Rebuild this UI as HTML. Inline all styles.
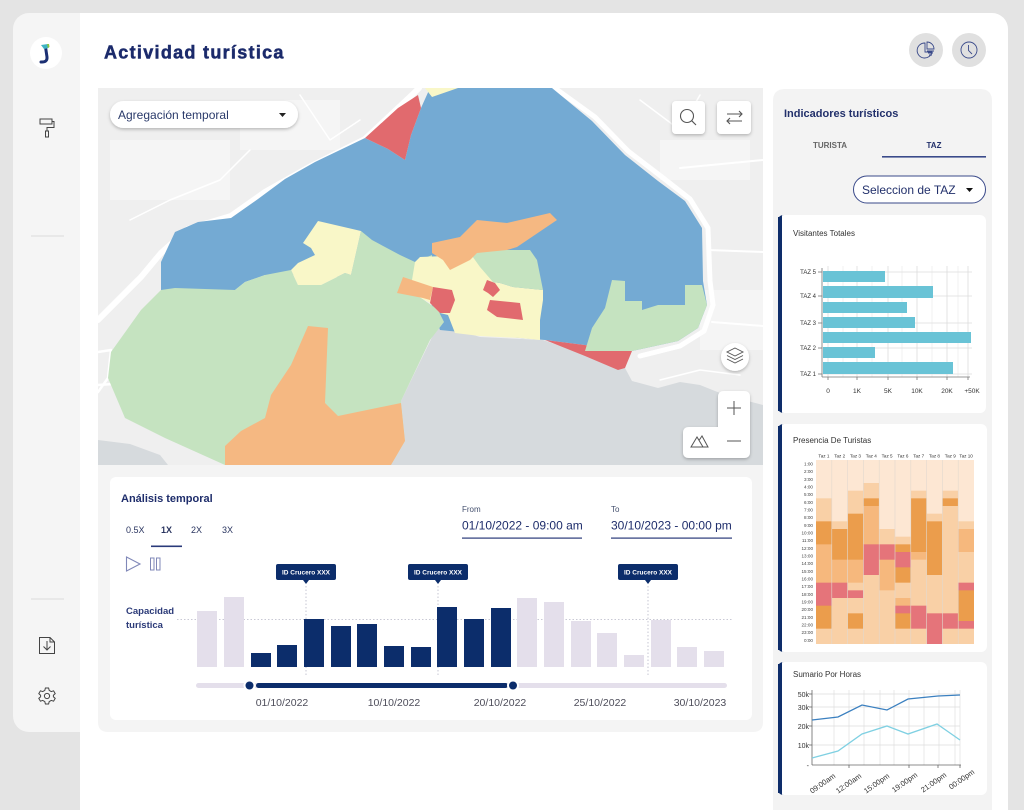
<!DOCTYPE html>
<html><head><meta charset="utf-8">
<style>
html,body{margin:0;padding:0;background:#e4e4e4;width:1024px;height:810px;overflow:hidden}
svg{position:absolute;left:0;top:0;font-family:"Liberation Sans",sans-serif}
.L{fill:#fde7d3}.P{fill:#f9d0a6}.M{fill:#f6b87d}.D{fill:#eb9d4c}.R{fill:#e5747a}
</style></head>
<body>
<svg width="1024" height="810" viewBox="0 0 1024 810" xmlns="http://www.w3.org/2000/svg">
<defs>
<filter id="sh" x="-30%" y="-30%" width="160%" height="170%"><feDropShadow dx="0" dy="1.5" stdDeviation="1.5" flood-color="#000" flood-opacity="0.25"/></filter>
<clipPath id="mapclip"><rect x="98" y="88" width="665" height="377"/></clipPath>
</defs>
<rect width="1024" height="810" fill="#e4e4e4"/>
<!-- main white -->
<path d="M80,13 H992 A16,16 0 0 1 1008,29 V810 H80 Z" fill="#ffffff"/>
<!-- sidebar -->
<path d="M29,13 H80 V732 H29 A16,16 0 0 1 13,716 V29 A16,16 0 0 1 29,13 Z" fill="#f5f5f5"/>
<circle cx="46" cy="53" r="16" fill="#fff"/>
<path d="M45.5,47 L47,57 Q47.5,62.5 41,62" fill="none" stroke="#1b2f73" stroke-width="3" stroke-linecap="round"/>
<path d="M41,45 L48,44 L48.5,48 L44,49 Z" fill="#3fb3c4"/>
<path d="M47,44 L49,44 L49.5,47 L48,48 Z" fill="#8cc63f"/>
<!-- roller -->
<rect x="40" y="119" width="12" height="5" fill="none" stroke="#444" stroke-width="1"/>
<path d="M52,121.5 H54 V127.5 H47 V131" fill="none" stroke="#444" stroke-width="1"/>
<rect x="45.5" y="131" width="3" height="6" fill="none" stroke="#444" stroke-width="1"/>
<line x1="31" y1="236" x2="64" y2="236" stroke="#dcdcdc" stroke-width="1"/>
<line x1="31" y1="599" x2="64" y2="599" stroke="#dcdcdc" stroke-width="1"/>
<!-- download doc -->
<path d="M39.5,637.5 H50 L54.5,642 V653.5 H39.5 Z" fill="none" stroke="#444" stroke-width="1"/>
<path d="M50,637.5 V642 H54.5" fill="none" stroke="#444" stroke-width="1"/>
<path d="M47,641 V650 M43.5,646.5 L47,650 L50.5,646.5" fill="none" stroke="#444" stroke-width="1"/>
<!-- gear -->
<g transform="translate(47,696)" fill="none" stroke="#444" stroke-width="1">
<path d="M-1.6,-8 H1.6 L2.2,-5.6 L4.3,-4.4 L6.6,-5.2 L8.2,-2.4 L6.4,-0.8 V0.8 L8.2,2.4 L6.6,5.2 L4.3,4.4 L2.2,5.6 L1.6,8 H-1.6 L-2.2,5.6 L-4.3,4.4 L-6.6,5.2 L-8.2,2.4 L-6.4,0.8 V-0.8 L-8.2,-2.4 L-6.6,-5.2 L-4.3,-4.4 L-2.2,-5.6 Z"/>
<circle r="2.6"/>
</g>

<!-- title -->
<text x="104" y="58.5" font-size="18" font-weight="bold" letter-spacing="1.3" fill="#1b2a6b" stroke="#1b2a6b" stroke-width="0.5">Actividad turística</text>
<!-- top right icons -->
<circle cx="926" cy="50" r="17" fill="#e0e0e0"/>
<circle cx="969" cy="50" r="17" fill="#e0e0e0"/>
<g fill="none" stroke="#3a4a8a" stroke-width="0.9">
<path d="M925,43 A7.5,7.5 0 1 0 932,52 H925 Z"/>
<path d="M927,42 A7,7 0 0 1 934,49 H927 Z"/>
<path d="M927,51 H934 M928,53 H933 M929,55 H932"/>
<circle cx="969" cy="50" r="8"/>
<path d="M968.5,45 V50.5 L972,54"/>
</g>

<!-- MAP -->
<g clip-path="url(#mapclip)">
<rect x="98" y="88" width="665" height="377" fill="#efefef"/>
<g fill="#f5f5f5">
<rect x="110" y="140" width="120" height="60"/>
<rect x="240" y="100" width="100" height="50"/>
<rect x="620" y="200" width="60" height="40"/>
<rect x="700" y="290" width="63" height="60"/>
<rect x="660" y="140" width="90" height="40"/>
</g>
<g fill="none" stroke="#ffffff" stroke-linecap="round" stroke-linejoin="round">
<polyline stroke-width="6" points="98,320 141,277 161,253 188,229 231,216 265,192 311,166 365,139 411,96 419,88"/>
<polyline stroke-width="5" points="552,86 595,117 628,151 662,177 690,199 708,228 710,281 713,305 704,331 680,346 640,356"/>
<polyline stroke-width="2.5" points="98,385 158,381 178,388 225,446"/>
<polyline stroke-width="2.5" points="98,352 111,350 108,378 98,392"/>
<polyline stroke-width="2" points="708,250 763,252"/>
<polyline stroke-width="2" points="712,322 763,326"/>
<polyline stroke-width="2" points="680,168 763,160"/>
<polyline stroke-width="1.5" points="640,100 680,130 700,95"/>
<polyline stroke-width="1.5" points="300,95 330,140 360,120"/>
<polyline stroke-width="1.5" points="130,220 170,200 220,180 250,150"/>
<polyline stroke-width="1.5" points="660,380 700,370 740,375"/>
</g>
<!-- sea -->
<path d="M401,401 L438,325 L447,327 L480,337 L543,340 L625,368 L632,381 L658,388 L680,382 L700,385 L725,395 L763,405 V465 H391 L405,441 Z" fill="#d6dadd"/>
<path d="M98,440 L130,444 L160,455 L168,465 H98 Z" fill="#d6dadd"/>
<!-- blue -->
<path d="M161,290 L161,262 L175,232 L198,222 L231,218 L258,199 L285,179 L315,162 L365,138 L388,149 L405,160 L411,135 L421,108 L430,88 L552,88 L592,121 L625,155 L658,181 L685,201 L702,228 L703,281 L707,305 L698,328 L678,341 L632,351 L545,340 L520,338 L440,330 L430,300 L400,280 L291,275 L265,275 L245,282 L235,290 L198,290 Z" fill="#74aad3"/>
<!-- green left -->
<path d="M111,352 L141,310 L161,290 L175,288 L235,290 L245,282 L265,275 L291,270 L298,285 L321,285 L345,273 L351,275 L361,231 L372,240 L400,255 L415,262 L432,255 L432,270 L410,290 L438,310 L444,322 L430,340 L401,401 L405,441 L391,465 L225,465 L165,438 L125,418 L108,378 Z" fill="#c5e3c0"/>
<!-- yellow top-left -->
<path d="M291,270 L298,263 L315,255 L311,248 L303,243 L318,221 L361,231 L351,275 L345,273 L321,285 L298,285 Z" fill="#f9f7c8"/>
<!-- orange bottom-left -->
<path d="M308,326 L328,328 L325,403 L338,416 L401,403 L405,441 L391,465 L225,465 L225,446 L241,431 L265,418 L271,395 L291,365 Z" fill="#f5b882"/>
<!-- center -->
<path d="M415,262 L420,257 L445,256 L470,253 L480,262 L493,282 L500,283 L513,287 L543,290 L543,300 L540,320 L540,340 L520,338 L480,336 L455,333 L448,315 L440,313 L430,303 L410,292 Z" fill="#f9f7c8"/>
<path d="M470,253 L497,250 L530,250 L537,260 L543,290 L513,287 L500,283 L493,282 L480,267 Z" fill="#c5e3c0"/>
<path d="M432,243 L460,237 L477,220 L507,223 L550,213 L557,220 L517,247 L507,250 L477,253 L470,260 L450,270 L443,260 L432,253 Z" fill="#f5b882"/>
<path d="M403,277 L433,287 L430,300 L423,298 L397,293 Z" fill="#f5b882"/>
<path d="M433,287 L452,290 L455,300 L450,313 L440,313 L430,303 Z" fill="#e16a6e"/>
<path d="M487,280 L495,283 L500,290 L493,297 L488,293 L483,290 Z" fill="#e16a6e"/>
<path d="M490,300 L520,303 L523,320 L497,317 L487,310 Z" fill="#e16a6e"/>
<!-- red top -->
<path d="M365,138 L398,108 L418,95 L421,108 L411,135 L405,160 L388,149 Z" fill="#e16a6e"/>
<!-- red bottom strip -->
<path d="M545,340 L632,351 L625,368 L618,370 L585,356 Z" fill="#e16a6e"/>
<!-- green bottom right -->
<path d="M612,280 L625,281 L625,301 L642,301 L642,310 L658,305 L685,305 L685,285 L702,285 L707,305 L698,328 L678,341 L632,351 L585,351 L592,328 L605,308 Z" fill="#c5e3c0"/>
<!-- yellow sliver -->
<path d="M425,88 L458,88 L432,97 Z" fill="#f9f7c8"/>
</g>
<!-- map controls -->
<rect x="110" y="101" width="188" height="27" rx="13.5" fill="#fff" filter="url(#sh)"/>
<text x="118" y="119" font-size="12" fill="#2a3a6a">Agregación temporal</text>
<path d="M279,113 L286,113 L282.5,117 Z" fill="#222"/>
<rect x="672" y="101" width="33" height="33" rx="4" fill="#fff" filter="url(#sh)"/>
<rect x="717" y="101" width="34" height="33" rx="4" fill="#fff" filter="url(#sh)"/>
<g fill="none" stroke="#555" stroke-width="1.1">
<circle cx="687" cy="116" r="6.5"/>
<line x1="691.8" y1="120.8" x2="696" y2="125"/>
<path d="M727,114 H742 M739,111 L742,114 L739,117"/>
<path d="M742,121 H727 M730,118 L727,121 L730,124"/>
</g>
<circle cx="735" cy="357" r="14" fill="#fff" filter="url(#sh)"/>
<g fill="none" stroke="#555" stroke-width="0.9">
<path d="M735,348 L743,352 L735,356 L727,352 Z"/>
<path d="M727,355.5 L735,359.5 L743,355.5"/>
<path d="M727,359 L735,363 L743,359"/>
</g>
<path d="M724,391 H744 Q750,391 750,397 V452 Q750,458 744,458 H689 Q683,458 683,452 V433 Q683,427 689,427 H718 V397 Q718,391 724,391 Z" fill="#fff" filter="url(#sh)"/>
<g fill="none" stroke="#555" stroke-width="1">
<path d="M734,401 V415 M727,408 H741"/>
<path d="M727,441 H741"/>
<path d="M691,447 L697,437 L703,447 Z M699,440.5 L702,436 L708,447 H703"/>
</g>

<!-- ANALYSIS PANEL -->
<path d="M98,465 H763 V722 Q763,732 753,732 H108 Q98,732 98,722 Z" fill="#f4f4f4"/>
<rect x="110" y="477" width="642" height="243" rx="6" fill="#fff"/>
<text x="121" y="502" font-size="11" font-weight="bold" fill="#1e2d6b">Análisis temporal</text>
<g font-size="9" fill="#2a3560">
<text x="126" y="533">0.5X</text>
<text x="161" y="533" font-weight="bold">1X</text>
<text x="191" y="533">2X</text>
<text x="222" y="533">3X</text>
</g>
<rect x="151" y="545.5" width="31" height="1.6" fill="#2a3a7a"/>
<path d="M126.5,557 L140,564 L126.5,571 Z" fill="none" stroke="#8088b8" stroke-width="1.1"/>
<rect x="150.5" y="558" width="3.5" height="12" fill="none" stroke="#8088b8" stroke-width="1"/>
<rect x="156.5" y="558" width="3.5" height="12" fill="none" stroke="#8088b8" stroke-width="1"/>
<text x="126" y="614" font-size="9.5" font-weight="bold" fill="#2b3a78">Capacidad</text>
<text x="126" y="628" font-size="9.5" font-weight="bold" fill="#2b3a78">turística</text>
<!-- dotted lines -->
<g stroke="#b8b8c8" stroke-width="0.8" stroke-dasharray="1.5,2">
<line x1="177" y1="619.5" x2="732" y2="619.5"/>
<line x1="306" y1="586" x2="306" y2="676"/>
<line x1="438" y1="586" x2="438" y2="676"/>
<line x1="648" y1="586" x2="648" y2="676"/>
</g>
<!-- bars -->
<g fill="#e4dfeb">
<rect x="197" y="611" width="20" height="56"/>
<rect x="224" y="597" width="20" height="70"/>
<rect x="517" y="598" width="20" height="69"/>
<rect x="544" y="602" width="20" height="65"/>
<rect x="571" y="621" width="20" height="46"/>
<rect x="597" y="633" width="20" height="34"/>
<rect x="624" y="655" width="20" height="12"/>
<rect x="651" y="620" width="20" height="47"/>
<rect x="677" y="647" width="20" height="20"/>
<rect x="704" y="651" width="20" height="16"/>
</g>
<g fill="#0c2d6b">
<rect x="251" y="653" width="20" height="14"/>
<rect x="277" y="645" width="20" height="22"/>
<rect x="304" y="619" width="20" height="48"/>
<rect x="331" y="626" width="20" height="41"/>
<rect x="357" y="624" width="20" height="43"/>
<rect x="384" y="646" width="20" height="21"/>
<rect x="411" y="647" width="20" height="20"/>
<rect x="437" y="607" width="20" height="60"/>
<rect x="464" y="619" width="20" height="48"/>
<rect x="491" y="608" width="20" height="59"/>
</g>
<!-- tooltips -->
<g fill="#0c2d6b">
<rect x="276" y="564" width="60" height="16" rx="2"/><path d="M303,580 L306,584 L309,580 Z"/>
<rect x="408" y="564" width="60" height="16" rx="2"/><path d="M435,580 L438,584 L441,580 Z"/>
<rect x="618" y="564" width="60" height="16" rx="2"/><path d="M645,580 L648,584 L651,580 Z"/>
</g>
<g font-size="6.5" fill="#fff" text-anchor="middle" font-weight="bold">
<text x="306" y="574.5">ID Crucero XXX</text>
<text x="438" y="574.5">ID Crucero XXX</text>
<text x="648" y="574.5">ID Crucero XXX</text>
</g>
<!-- slider -->
<rect x="196" y="683" width="531" height="5" rx="2.5" fill="#e4dfeb"/>
<rect x="256" y="683" width="252" height="5" rx="2.5" fill="#0c2d6b"/>
<circle cx="249.5" cy="685.5" r="5" fill="#0c2d6b" stroke="#fff" stroke-width="2"/>
<circle cx="513" cy="685.5" r="5" fill="#0c2d6b" stroke="#fff" stroke-width="2"/>
<g font-size="10.5" fill="#4d4d5a" text-anchor="middle">
<text x="282" y="706">01/10/2022</text>
<text x="394" y="706">10/10/2022</text>
<text x="500" y="706">20/10/2022</text>
<text x="600" y="706">25/10/2022</text>
<text x="700" y="706">30/10/2023</text>
</g>
<!-- from/to -->
<text x="462" y="512" font-size="8" fill="#44506e">From</text>
<text x="462" y="529.5" font-size="12" fill="#1e2d6b">01/10/2022 - 09:00 am</text>
<rect x="462" y="537.5" width="120" height="1.2" fill="#2a3a7a"/>
<text x="611" y="512" font-size="8" fill="#44506e">To</text>
<text x="611" y="529.5" font-size="12" fill="#1e2d6b">30/10/2023 - 00:00 pm</text>
<rect x="611" y="537.5" width="121" height="1.2" fill="#2a3a7a"/>

<!-- RIGHT PANEL -->
<path d="M785,89 H980 Q992,89 992,101 V810 H773 V101 Q773,89 785,89 Z" fill="#f3f3f3"/>
<text x="784" y="117" font-size="11" font-weight="bold" fill="#22306b">Indicadores turísticos</text>
<text x="830" y="148" font-size="8" font-weight="bold" fill="#666" text-anchor="middle">TURISTA</text>
<text x="934" y="148" font-size="8" font-weight="bold" fill="#22306b" text-anchor="middle">TAZ</text>
<rect x="882" y="156" width="104" height="1.6" fill="#3a4a8a"/>
<rect x="853.5" y="176" width="132" height="27" rx="13.5" fill="#fff" stroke="#3a4a8a" stroke-width="1"/>
<text x="862" y="194" font-size="12" fill="#22306b">Seleccion de TAZ</text>
<path d="M966,188 L973,188 L969.5,192 Z" fill="#111"/>

<!-- card 1 -->
<rect x="778" y="215" width="208" height="198" rx="6" fill="#fff"/>
<path d="M784,215 Q778,215 778,221 V407 Q778,413 784,413 H782 V215 Z" fill="#0e2d6a"/>
<rect x="778" y="217" width="4" height="194" fill="#0e2d6a"/>
<text x="793" y="236" font-size="8" fill="#333">Visitantes Totales</text>
<g stroke="#eeeeee" stroke-width="0.8">
<line x1="843" y1="266" x2="843" y2="377"/><line x1="872" y1="266" x2="872" y2="377"/>
<line x1="902" y1="266" x2="902" y2="377"/><line x1="932" y1="266" x2="932" y2="377"/>
<line x1="958" y1="266" x2="958" y2="377"/>
</g>
<g stroke="#dcdcdc" stroke-width="0.8">
<line x1="828" y1="266" x2="828" y2="377"/><line x1="857" y1="266" x2="857" y2="377"/>
<line x1="888" y1="266" x2="888" y2="377"/><line x1="917" y1="266" x2="917" y2="377"/>
<line x1="947" y1="266" x2="947" y2="377"/><line x1="968" y1="266" x2="968" y2="377"/>
<line x1="822" y1="272" x2="972" y2="272"/><line x1="822" y1="296" x2="972" y2="296"/>
<line x1="822" y1="323" x2="972" y2="323"/><line x1="822" y1="348" x2="972" y2="348"/>
<line x1="822" y1="374" x2="972" y2="374"/>
</g>
<g fill="#69c3d6">
<rect x="823" y="271" width="62" height="11"/>
<rect x="823" y="286" width="110" height="12"/>
<rect x="823" y="302" width="84" height="11"/>
<rect x="823" y="317" width="92" height="11"/>
<rect x="823" y="332" width="148" height="11"/>
<rect x="823" y="347" width="52" height="11"/>
<rect x="823" y="362" width="130" height="12"/>
</g>
<g stroke="#777" stroke-width="0.8">
<line x1="822" y1="268" x2="822" y2="377"/>
<line x1="822" y1="377" x2="970" y2="377"/>
<line x1="818" y1="272" x2="822" y2="272"/><line x1="818" y1="296" x2="822" y2="296"/>
<line x1="818" y1="323" x2="822" y2="323"/><line x1="818" y1="348" x2="822" y2="348"/>
<line x1="818" y1="374" x2="822" y2="374"/>
<line x1="828" y1="377" x2="828" y2="380"/><line x1="857" y1="377" x2="857" y2="380"/>
<line x1="888" y1="377" x2="888" y2="380"/><line x1="917" y1="377" x2="917" y2="380"/>
<line x1="947" y1="377" x2="947" y2="380"/><line x1="968" y1="377" x2="968" y2="380"/>
</g>
<g font-size="6" fill="#333" text-anchor="end">
<text x="816" y="274">TAZ 5</text><text x="816" y="298">TAZ 4</text>
<text x="816" y="325">TAZ 3</text><text x="816" y="350">TAZ 2</text>
<text x="816" y="376">TAZ 1</text>
</g>
<g font-size="6.5" fill="#333" text-anchor="middle">
<text x="828" y="393">0</text><text x="857" y="393">1K</text><text x="888" y="393">5K</text>
<text x="917" y="393">10K</text><text x="947" y="393">20K</text><text x="972" y="393">+50K</text>
</g>

<!-- card 2 heatmap -->
<rect x="778" y="424" width="209" height="228" rx="6" fill="#fff"/>
<rect x="778" y="426" width="4" height="224" fill="#0e2d6a"/>
<path d="M784,424 Q778,424 778,430 V646 Q778,652 784,652 H782 V424 Z" fill="#0e2d6a"/>
<text x="793" y="443" font-size="8" fill="#333">Presencia De Turistas</text>
<g transform="translate(816,460) scale(15.8,7.6667)">
<rect class="L" x="0" y="0" width="1" height="5.05"/><rect class="P" x="0" y="5" width="1" height="3.05"/><rect class="D" x="0" y="8" width="1" height="3.05"/><rect class="M" x="0" y="11" width="1" height="5.05"/><rect class="R" x="0" y="16" width="1" height="3.05"/><rect class="D" x="0" y="19" width="1" height="3.05"/><rect class="P" x="0" y="22" width="1" height="2"/>
<rect class="L" x="1" y="0" width="1" height="8.05"/><rect class="P" x="1" y="8" width="1" height="1.05"/><rect class="D" x="1" y="9" width="1" height="4.05"/><rect class="M" x="1" y="13" width="1" height="3.05"/><rect class="R" x="1" y="16" width="1" height="2.05"/><rect class="P" x="1" y="18" width="1" height="6"/>
<rect class="L" x="2" y="0" width="1" height="4.05"/><rect class="P" x="2" y="4" width="1" height="3.05"/><rect class="D" x="2" y="7" width="1" height="6.05"/><rect class="M" x="2" y="13" width="1" height="3.05"/><rect class="P" x="2" y="16" width="1" height="1.05"/><rect class="R" x="2" y="17" width="1" height="1.05"/><rect class="P" x="2" y="18" width="1" height="2.05"/><rect class="D" x="2" y="20" width="1" height="2.05"/><rect class="P" x="2" y="22" width="1" height="2"/>
<rect class="L" x="3" y="0" width="1" height="3.05"/><rect class="P" x="3" y="3" width="1" height="2.05"/><rect class="D" x="3" y="5" width="1" height="1.05"/><rect class="M" x="3" y="6" width="1" height="5.05"/><rect class="R" x="3" y="11" width="1" height="4.05"/><rect class="P" x="3" y="15" width="1" height="9"/>
<rect class="L" x="4" y="0" width="1" height="9.05"/><rect class="P" x="4" y="9" width="1" height="2.05"/><rect class="R" x="4" y="11" width="1" height="2.05"/><rect class="M" x="4" y="13" width="1" height="4.05"/><rect class="P" x="4" y="17" width="1" height="7"/>
<rect class="L" x="5" y="0" width="1" height="10.05"/><rect class="P" x="5" y="10" width="1" height="1.05"/><rect class="D" x="5" y="11" width="1" height="1.05"/><rect class="R" x="5" y="12" width="1" height="2.05"/><rect class="D" x="5" y="14" width="1" height="2.05"/><rect class="P" x="5" y="16" width="1" height="2.05"/><rect class="M" x="5" y="18" width="1" height="1.05"/><rect class="R" x="5" y="19" width="1" height="1.05"/><rect class="D" x="5" y="20" width="1" height="2.05"/><rect class="P" x="5" y="22" width="1" height="2"/>
<rect class="L" x="6" y="0" width="1" height="4.05"/><rect class="P" x="6" y="4" width="1" height="1.05"/><rect class="D" x="6" y="5" width="1" height="7.05"/><rect class="M" x="6" y="12" width="1" height="1.05"/><rect class="P" x="6" y="13" width="1" height="6.05"/><rect class="R" x="6" y="19" width="1" height="3.05"/><rect class="P" x="6" y="22" width="1" height="2"/>
<rect class="L" x="7" y="0" width="1" height="7.05"/><rect class="P" x="7" y="7" width="1" height="1.05"/><rect class="D" x="7" y="8" width="1" height="7.05"/><rect class="P" x="7" y="15" width="1" height="5.05"/><rect class="R" x="7" y="20" width="1" height="4"/>
<rect class="L" x="8" y="0" width="1" height="4.05"/><rect class="P" x="8" y="4" width="1" height="1.05"/><rect class="D" x="8" y="5" width="1" height="1.05"/><rect class="P" x="8" y="6" width="1" height="14.05"/><rect class="R" x="8" y="20" width="1" height="2.05"/><rect class="P" x="8" y="22" width="1" height="2"/>
<rect class="L" x="9" y="0" width="1" height="8.05"/><rect class="P" x="9" y="8" width="1" height="1.05"/><rect class="M" x="9" y="9" width="1" height="3.05"/><rect class="P" x="9" y="12" width="1" height="4.05"/><rect class="R" x="9" y="16" width="1" height="1.05"/><rect class="D" x="9" y="17" width="1" height="4.05"/><rect class="R" x="9" y="21" width="1" height="1.05"/><rect class="P" x="9" y="22" width="1" height="2"/>
</g>
<g stroke="#e2d8ce" stroke-width="0.6">
<line x1="831.8" y1="460" x2="831.8" y2="644"/><line x1="847.6" y1="460" x2="847.6" y2="644"/>
<line x1="863.4" y1="460" x2="863.4" y2="644"/><line x1="879.2" y1="460" x2="879.2" y2="644"/>
<line x1="895" y1="460" x2="895" y2="644"/><line x1="910.8" y1="460" x2="910.8" y2="644"/>
<line x1="926.6" y1="460" x2="926.6" y2="644"/><line x1="942.4" y1="460" x2="942.4" y2="644"/>
<line x1="958.2" y1="460" x2="958.2" y2="644"/>
</g>
<g font-size="4.6" fill="#333" text-anchor="middle">
<text x="823.9" y="457.5">Taz 1</text><text x="839.7" y="457.5">Taz 2</text><text x="855.5" y="457.5">Taz 3</text>
<text x="871.3" y="457.5">Taz 4</text><text x="887.1" y="457.5">Taz 5</text><text x="902.9" y="457.5">Taz 6</text>
<text x="918.7" y="457.5">Taz 7</text><text x="934.5" y="457.5">Taz 8</text><text x="950.3" y="457.5">Taz 9</text>
<text x="966.1" y="457.5">Taz 10</text>
</g>
<g font-size="4.6" fill="#444" text-anchor="end">
<text x="813" y="465.5">1:00</text><text x="813" y="473.2">2:00</text><text x="813" y="480.8">3:00</text>
<text x="813" y="488.5">4:00</text><text x="813" y="496.2">5:00</text><text x="813" y="503.8">6:00</text>
<text x="813" y="511.5">7:00</text><text x="813" y="519.2">8:00</text><text x="813" y="526.8">9:00</text>
<text x="813" y="534.5">10:00</text><text x="813" y="542.2">11:00</text><text x="813" y="549.8">12:00</text>
<text x="813" y="557.5">13:00</text><text x="813" y="565.2">14:00</text><text x="813" y="572.8">15:00</text>
<text x="813" y="580.5">16:00</text><text x="813" y="588.2">17:00</text><text x="813" y="595.8">18:00</text>
<text x="813" y="603.5">19:00</text><text x="813" y="611.2">20:00</text><text x="813" y="618.8">21:00</text>
<text x="813" y="626.5">22:00</text><text x="813" y="634.2">23:00</text><text x="813" y="641.8">0:00</text>
</g>

<!-- card 3 line chart -->
<rect x="778" y="662" width="209" height="133" rx="6" fill="#fff"/>
<rect x="778" y="664" width="4" height="129" fill="#0e2d6a"/>
<path d="M784,662 Q778,662 778,668 V789 Q778,795 784,795 H782 V662 Z" fill="#0e2d6a"/>
<text x="793" y="677" font-size="8" fill="#333">Sumario Por Horas</text>
<g stroke="#dedede" stroke-width="0.7">
<line x1="834" y1="690" x2="834" y2="765"/><line x1="849" y1="690" x2="849" y2="765"/>
<line x1="864" y1="690" x2="864" y2="765"/><line x1="880" y1="690" x2="880" y2="765"/>
<line x1="894" y1="690" x2="894" y2="765"/><line x1="909" y1="690" x2="909" y2="765"/>
<line x1="924" y1="690" x2="924" y2="765"/><line x1="939" y1="690" x2="939" y2="765"/>
<line x1="955" y1="690" x2="955" y2="765"/><line x1="960" y1="690" x2="960" y2="765"/>
<line x1="812" y1="694" x2="960" y2="694"/><line x1="812" y1="707" x2="960" y2="707"/>
<line x1="812" y1="726" x2="960" y2="726"/><line x1="812" y1="745" x2="960" y2="745"/>
</g>
<g stroke="#666" stroke-width="0.8">
<line x1="812" y1="690" x2="812" y2="765"/>
<line x1="812" y1="765" x2="961" y2="765"/>
<line x1="849" y1="765" x2="849" y2="768"/><line x1="909" y1="765" x2="909" y2="768"/>
<line x1="938" y1="765" x2="938" y2="768"/><line x1="960" y1="765" x2="960" y2="768"/>
<line x1="809" y1="694" x2="812" y2="694"/><line x1="809" y1="707" x2="812" y2="707"/>
<line x1="809" y1="726" x2="812" y2="726"/><line x1="809" y1="745" x2="812" y2="745"/>
</g>
<polyline points="812,720 838,717 862,705 887,710 908,699 938,696 960,695" fill="none" stroke="#3b80c0" stroke-width="1.3"/>
<polyline points="812,758 838,751 862,734 887,726 908,734 937,724 960,740" fill="none" stroke="#7fd0e2" stroke-width="1.3"/>
<g font-size="7" fill="#333" text-anchor="end">
<text x="809" y="697">50k</text><text x="809" y="710">30k</text>
<text x="809" y="729">20k</text><text x="809" y="748">10k</text>
<text x="809" y="768">-</text>
</g>
<g font-size="7.5" fill="#333" text-anchor="end">
<text transform="translate(836,777) rotate(-35)">09:00am</text>
<text transform="translate(862,777) rotate(-35)">12:00am</text>
<text transform="translate(890,777) rotate(-35)">15:00pm</text>
<text transform="translate(918,776) rotate(-35)">19:00pm</text>
<text transform="translate(947,776) rotate(-35)">21:00pm</text>
<text transform="translate(975,773) rotate(-35)">00:00pm</text>
</g>
</svg>
</body></html>
